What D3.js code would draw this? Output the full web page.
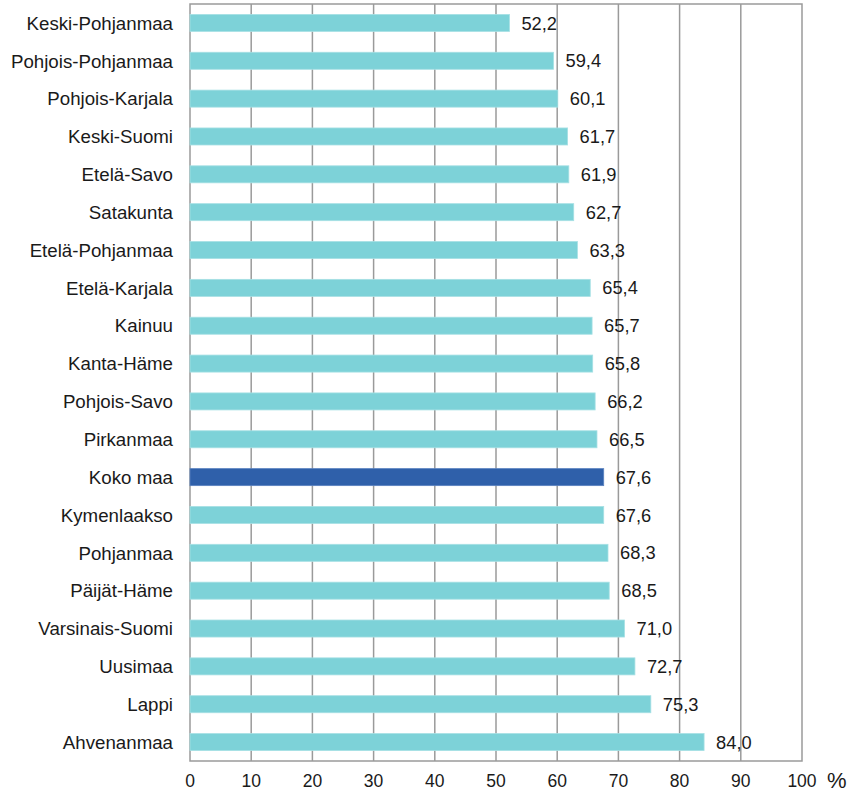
<!DOCTYPE html>
<html>
<head>
<meta charset="utf-8">
<script src="https://cdn.jsdelivr.net/npm/d3@7"></script>
<style>
  body { margin: 0; background: #fff; }
  text { font-family: "Liberation Sans", Arial, sans-serif; fill: #1a1a1a; }
</style>
</head>
<body>
<svg id="chart" width="848" height="793"></svg>
<script>
const regions = ["Keski-Pohjanmaa", "Pohjois-Pohjanmaa", "Pohjois-Karjala", "Keski-Suomi",
  "Etelä-Savo", "Satakunta", "Etelä-Pohjanmaa", "Etelä-Karjala", "Kainuu", "Kanta-Häme",
  "Pohjois-Savo", "Pirkanmaa", "Koko maa", "Kymenlaakso", "Pohjanmaa", "Päijät-Häme",
  "Varsinais-Suomi", "Uusimaa", "Lappi", "Ahvenanmaa"];
const values = [52.2, 59.4, 60.1, 61.7, 61.9, 62.7, 63.3, 65.4, 65.7, 65.8,
  66.2, 66.5, 67.6, 67.6, 68.3, 68.5, 71.0, 72.7, 75.3, 84.0];
const xTicks = [0, 10, 20, 30, 40, 50, 60, 70, 80, 90, 100];
const highlight = "Koko maa";

const data = regions.map((r, i) => ({ region: r, value: values[i] }));

const margin = { top: 4, right: 46, bottom: 32, left: 190 };
const width = 848 - margin.left - margin.right;
const height = 793 - margin.top - margin.bottom;

const svg = d3.select("#chart")
  .append("g")
  .attr("transform", `translate(${margin.left},${margin.top})`);

const x = d3.scaleLinear().domain([0, 100]).range([0, width]);
const y = d3.scaleBand().domain(regions).range([0, height]).paddingInner(0.55).paddingOuter(0.275);

// grid lines
svg.selectAll(".grid")
  .data(xTicks.slice(1, -1))
  .enter()
  .append("line")
  .attr("x1", d => x(d)).attr("x2", d => x(d))
  .attr("y1", 0).attr("y2", height)
  .attr("stroke", "#9a9a9a")
  .attr("stroke-width", 1.5);

svg.append("rect")
  .attr("width", width).attr("height", height)
  .attr("fill", "none")
  .attr("stroke", "#9a9a9a")
  .attr("stroke-width", 1.5);

svg.selectAll(".bar")
  .data(data)
  .enter()
  .append("rect")
  .attr("class", "bar")
  .attr("x", 0)
  .attr("y", d => y(d.region))
  .attr("width", d => x(d.value))
  .attr("height", y.bandwidth())
  .attr("fill", d => d.region === highlight ? "#2f60aa" : "#7dd2d8")
  .attr("stroke", d => d.region === highlight ? "#5b83c0" : "#a6e0e4")
  .attr("stroke-width", 0.8);

svg.selectAll(".val")
  .data(data)
  .enter()
  .append("text")
  .attr("x", d => x(d.value) + 12)
  .attr("y", d => y(d.region) + y.bandwidth() / 2)
  .attr("dy", "0.36em")
  .style("font-size", "18.3px")
  .text(d => d.value.toFixed(1).replace(".", ","));

svg.selectAll(".cat")
  .data(data)
  .enter()
  .append("text")
  .attr("x", -17)
  .attr("y", d => y(d.region) + y.bandwidth() / 2)
  .attr("dy", "0.36em")
  .attr("text-anchor", "end")
  .style("font-size", "18.7px")
  .text(d => d.region);

svg.selectAll(".tick-label")
  .data(xTicks)
  .enter()
  .append("text")
  .attr("x", d => x(d))
  .attr("y", height + 26)
  .attr("text-anchor", "middle")
  .style("font-size", "17.5px")
  .text(d => d);

svg.append("text")
  .attr("x", x(100) + 25)
  .attr("y", height + 27)
  .style("font-size", "22px")
  .text("%");
</script>
</body>
</html>
